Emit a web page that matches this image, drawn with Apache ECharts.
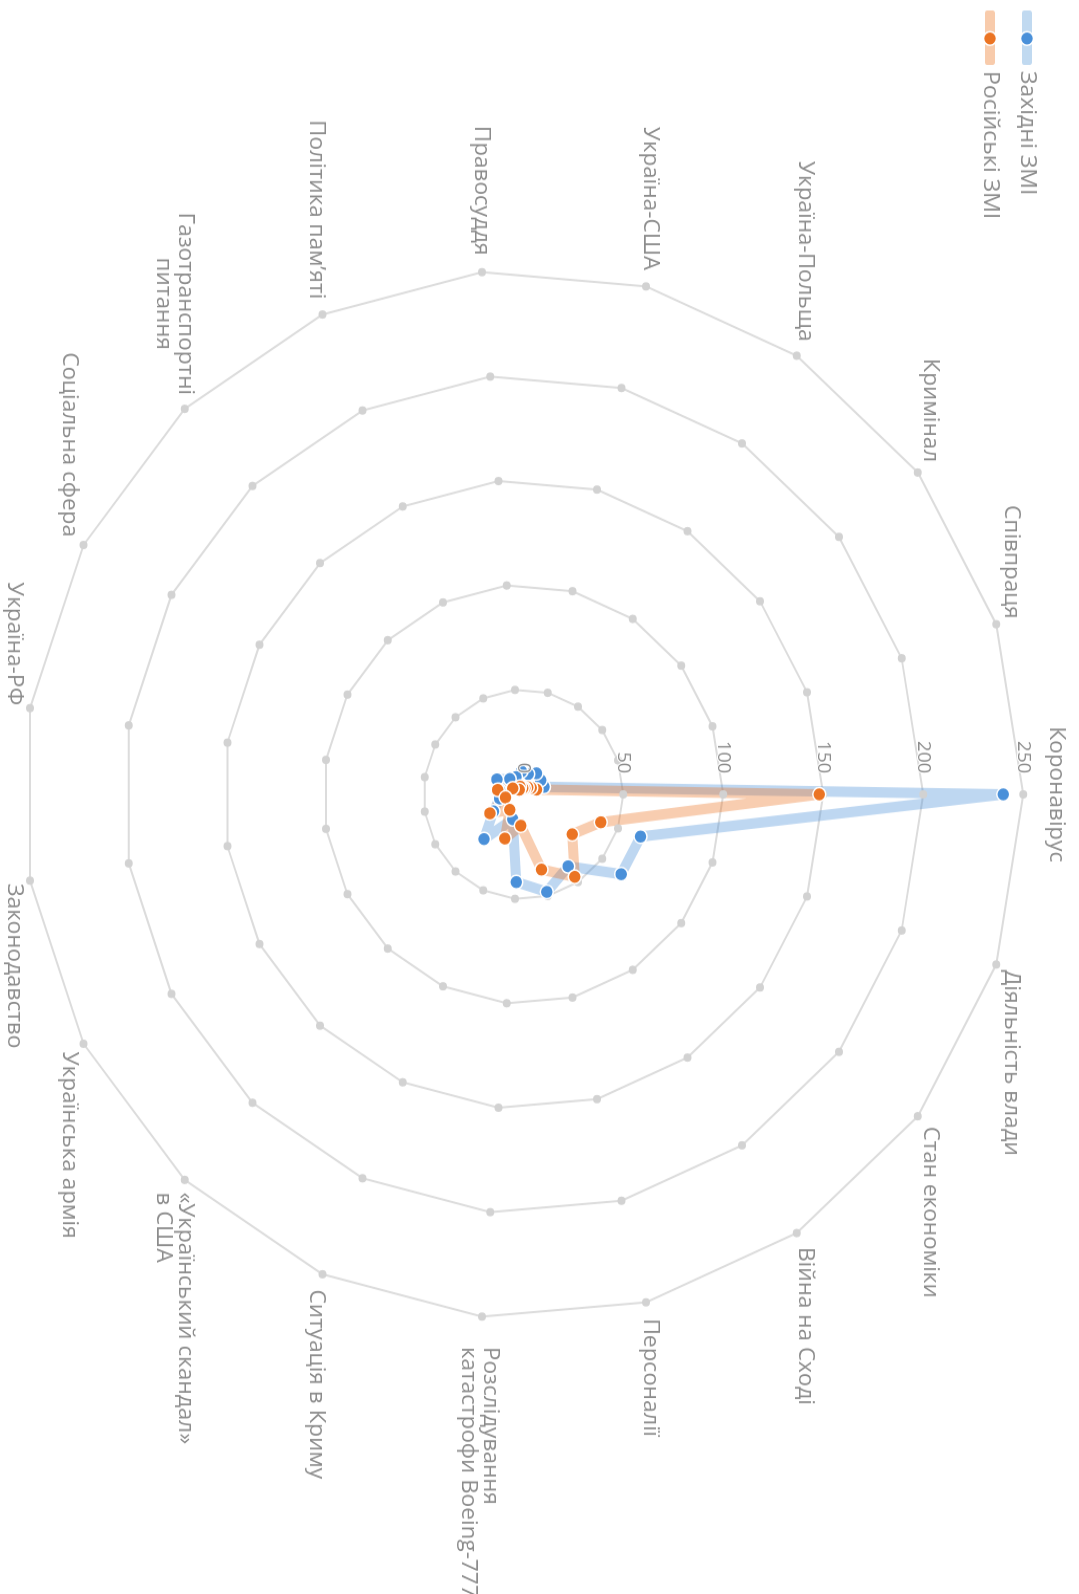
<!DOCTYPE html>
<html><head><meta charset="utf-8">
<script src="https://cdn.jsdelivr.net/npm/echarts@6/dist/echarts.min.js"></script>
<style>
html,body{margin:0;padding:0;width:1079px;height:1594px;overflow:hidden;background:#fff;}
#chart{position:absolute;left:0;top:0;width:1521px;height:1079px;transform-origin:0 0;transform:translate(1079px,0) scale(1,1.048) rotate(90deg);}
</style></head><body><div id="chart"></div>
<script>
// ---- data (clockwise order, starting from top axis) ----
const categories = ['Коронавірус','Діяльність влади','Стан економіки','Війна на Сході','Персоналії',
  'Розслідування\nкатастрофи Boeing-777','Ситуація в Криму','«Український скандал»\nв США','Українська армія',
  'Законодавство','Україна-РФ','Соціальна сфера','Газотранспортні\nпитання','Політика пам\u2019яті','Правосуддя',
  'Україна-США','Україна-Польща','Кримінал','Співпраця'];
const westernMedia = [240,62,62,41,48,42,13,29,17,12,12,15,10,9,11,10,12,11,11];
const russianMedia = [148,41,31,47,37,15,23,10,19,9,13,6,3,4,3,3,4,5,7];
const seriesNames = ['Західні ЗМІ','Російські ЗМІ'];
const ringTicks = [50,100,150,200,250];
const axisMax = 250;

// ECharts radar runs counter-clockwise: reorder so the chart runs clockwise
const cw = arr => [arr[0]].concat(arr.slice(1).reverse());

const FONT = 'Open Sans';
const NAME_SIZE = 21.5;
const TXT = '#8c8c8c';
const BLUE = '#4a90d9', BLUE_L = 'rgba(74,144,217,0.36)', BLUE_LS = '#c0d9f0';
const ORANGE = '#eb7423', ORANGE_L = 'rgba(235,116,35,0.36)', ORANGE_LS = '#f8cbab';

// label tweaks
const nameGapOf = {'Коронавірус': 22, 'Розслідування\nкатастрофи Boeing-777': 29};
const centeredNames = ['Газотранспортні\nпитання'];

const ctx = document.createElement('canvas').getContext('2d');
ctx.font = NAME_SIZE + 'px "' + FONT + '"';
const rich = {};
centeredNames.forEach((n, k) => {
  const w = Math.max.apply(null, n.split('\n').map(l => ctx.measureText(l).width));
  rich['m' + k] = {width: Math.ceil(w) + 2, align: 'center', color: TXT, fontSize: NAME_SIZE, fontFamily: FONT};
});

const mainIndicators = cw(categories).map(n => {
  const o = {name: n, max: axisMax, min: 0};
  if (nameGapOf[n] != null) o.nameGap = nameGapOf[n];
  return o;
});
const labelIndicators = cw(categories).map((n, i) => {
  const o = {name: n, max: axisMax, min: 0};
  if (i === 0) o.axisLabel = {show: true, color: TXT, fontSize: 18, fontFamily: FONT, margin: 20,
    textBorderColor: '#fff', textBorderWidth: 2};
  return o;
});

const chart = echarts.init(document.getElementById('chart'), null, {renderer: 'canvas'});
const legendCommon = {
  orient: 'vertical', left: 10, top: 41, padding: 0, itemGap: 15, itemWidth: 52,
  selectedMode: false,
  textStyle: {fontSize: 22, fontFamily: FONT, color: TXT}
};
const radarCommon = {
  center: [758, 555.7],
  radius: 500,
  startAngle: 90,
  splitNumber: ringTicks.length,
  shape: 'polygon',
  axisLine: {show: false},
  axisTick: {show: false},
  splitArea: {show: false}
};
chart.setOption({
  animation: false,
  backgroundColor: '#fff',
  legend: [
    Object.assign({}, legendCommon, {
      icon: 'roundRect', itemHeight: 10,
      textStyle: {fontSize: 22, fontFamily: FONT, color: 'rgba(0,0,0,0)'},
      data: [{name: seriesNames[0], itemStyle: {color: BLUE_LS, borderWidth: 0}},
             {name: seriesNames[1], itemStyle: {color: ORANGE_LS, borderWidth: 0}}]
    }),
    Object.assign({}, legendCommon, {
      icon: 'path://M0,0L0.01,0ZM52,14L51.99,14ZM32.5,7A6.5,6.5,0,1,0,19.5,7A6.5,6.5,0,1,0,32.5,7Z',
      itemHeight: 14,
      data: [{name: seriesNames[0], itemStyle: {color: BLUE, borderColor: '#fff', borderWidth: 1.5}},
             {name: seriesNames[1], itemStyle: {color: ORANGE, borderColor: '#fff', borderWidth: 1.5}}]
    })
  ],
  radar: [
    Object.assign({}, radarCommon, {
      nameGap: 16,
      axisName: {
        color: TXT, fontSize: NAME_SIZE, fontFamily: FONT, rich: rich,
        formatter: function (name) {
          const k = centeredNames.indexOf(name);
          if (k < 0) return name;
          return name.split('\n').map(l => '{m' + k + '|' + l + '}').join('\n');
        }
      },
      axisLabel: {show: false},
      splitLine: {lineStyle: {color: '#dcdcdc', width: 2}},
      indicator: mainIndicators
    }),
    Object.assign({}, radarCommon, {
      z: 6,
      silent: true,
      axisName: {show: false},
      axisLabel: {show: false},
      splitLine: {show: false},
      indicator: labelIndicators
    })
  ],
  series: [
    {
      type: 'radar', radarIndex: 0, silent: true, symbol: 'circle', symbolSize: 8,
      itemStyle: {color: '#d2d2d2'}, lineStyle: {width: 0, opacity: 0},
      data: ringTicks.map(t => ({value: categories.map(() => t)}))
    },
    {
      type: 'radar', radarIndex: 0, name: seriesNames[0], symbol: 'circle', symbolSize: 13,
      itemStyle: {color: BLUE, borderColor: '#fff', borderWidth: 1.5},
      lineStyle: {color: BLUE_L, width: 10, join: 'round', cap: 'round'},
      data: [{name: seriesNames[0], value: cw(westernMedia)}]
    },
    {
      type: 'radar', radarIndex: 0, name: seriesNames[1], symbol: 'circle', symbolSize: 13,
      itemStyle: {color: ORANGE, borderColor: '#fff', borderWidth: 1.5},
      lineStyle: {color: ORANGE_L, width: 10, join: 'round', cap: 'round'},
      data: [{name: seriesNames[1], value: cw(russianMedia)}]
    }
  ]
});
</script></body></html>
